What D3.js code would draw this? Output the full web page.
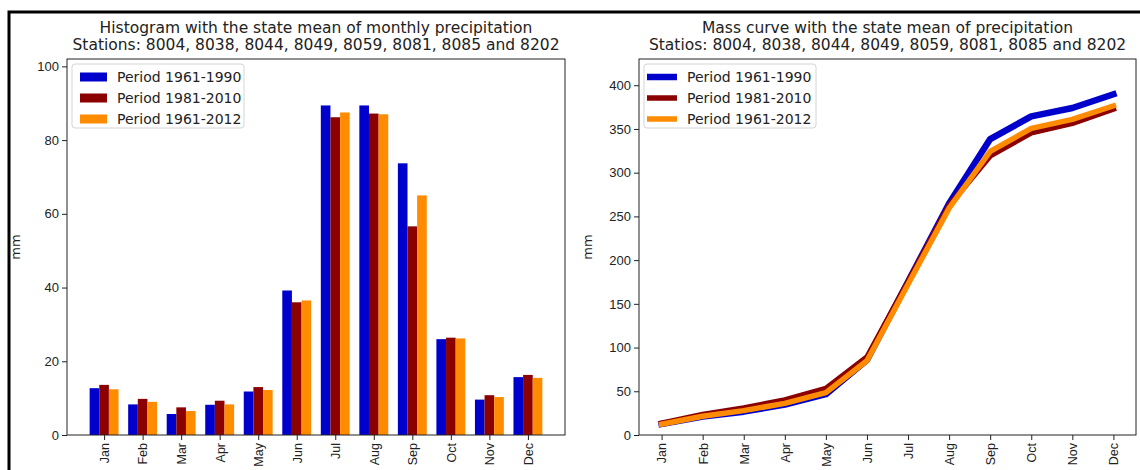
<!DOCTYPE html>
<html>
<head>
<meta charset="utf-8">
<script src="https://cdn.jsdelivr.net/npm/d3@7"></script>
<style>
  body { margin: 0; background: #fff; }
  svg { display: block; font-family: "DejaVu Sans", sans-serif; }
</style>
</head>
<body>
<div id="chart"></div>
<script>
// Data
const months = ['Jan', 'Feb', 'Mar', 'Apr', 'May', 'Jun', 'Jul', 'Aug', 'Sep', 'Oct', 'Nov', 'Dec'];
const periods = ['Period 1961-1990', 'Period 1981-2010', 'Period 1961-2012'];

// monthly means (mm)
const monthly1961_1990 = [12.7, 8.3, 5.7, 8.2, 11.8, 39.2, 89.4, 89.4, 73.7, 26.0, 9.6, 15.7];
const monthly1981_2010 = [13.6, 9.8, 7.5, 9.3, 13.0, 36.0, 86.2, 87.2, 56.6, 26.4, 10.8, 16.3];
const monthly1961_2012 = [12.4, 9.0, 6.5, 8.3, 12.2, 36.5, 87.5, 87.0, 65.0, 26.2, 10.3, 15.5];

// mass curve (accumulated mm)
const mass1961_1990 = [12.7, 21.0, 26.7, 34.9, 46.7, 85.9, 175.3, 264.7, 338.4, 364.4, 374.0, 389.7];
const mass1981_2010 = [13.6, 23.4, 30.9, 40.2, 53.2, 89.2, 175.4, 262.6, 319.2, 345.6, 356.4, 372.7];
const mass1961_2012 = [12.4, 21.4, 27.9, 36.2, 48.4, 84.9, 172.4, 259.4, 324.4, 350.6, 360.9, 376.4];

const barTicks = [0, 20, 40, 60, 80, 100];
const massTicks = [0, 50, 100, 150, 200, 250, 300, 350, 400];

const colors = ['#0000cd', '#8b0000', '#ff8c00'];
const lineWidths = [6.5, 5.5, 5.5];

const width = 1140, height = 470;
const plotTop = 59, plotBottom = 435;

const svg = d3.select('#chart').append('svg')
    .attr('width', width)
    .attr('height', height);

// outer black frame (cut off at right and bottom in the picture)
svg.append('path')
    .attr('d', `M9,${height}V12H${width}`)
    .attr('fill', 'none')
    .attr('stroke', '#000')
    .attr('stroke-width', 3);

function drawAxes(left, right, xScale, yScale, yTicks, titleLines) {
    const g = svg.append('g');

    // x axis with rotated month names
    const xAxis = g.append('g')
        .attr('transform', `translate(0,${plotBottom})`)
        .call(d3.axisBottom(xScale)
            .tickValues(d3.range(months.length))
            .tickFormat(i => months[i])
            .tickSize(5)
            .tickSizeOuter(0));
    xAxis.select('.domain').remove();
    xAxis.selectAll('text')
        .attr('font-size', 12.5)
        .attr('fill', '#222')
        .attr('transform', 'rotate(-90)')
        .attr('text-anchor', 'end')
        .attr('x', -8)
        .attr('y', 0)
        .attr('dy', '0.35em');

    const yAxis = g.append('g')
        .attr('transform', `translate(${left},0)`)
        .call(d3.axisLeft(yScale).tickValues(yTicks).tickSize(5).tickSizeOuter(0));
    yAxis.select('.domain').remove();
    yAxis.selectAll('text').attr('font-size', 13).attr('fill', '#222').attr('x', -8);
    g.selectAll('.tick line').attr('stroke', '#222');

    // frame of the axes
    g.append('rect')
        .attr('x', left)
        .attr('y', plotTop)
        .attr('width', right - left)
        .attr('height', plotBottom - plotTop)
        .attr('fill', 'none')
        .attr('stroke', '#222')
        .attr('stroke-width', 1);

    g.append('text')
        .attr('transform', `translate(${left - 47},${(plotTop + plotBottom) / 2}) rotate(-90)`)
        .attr('text-anchor', 'middle')
        .attr('font-size', 13)
        .attr('fill', '#222')
        .text('mm');

    titleLines.forEach((t, i) => {
        g.append('text')
            .attr('x', (left + right) / 2)
            .attr('y', 33 + i * 17)
            .attr('text-anchor', 'middle')
            .attr('font-size', 15.5)
            .attr('fill', '#222')
            .text(t);
    });
    return g;
}

function drawLegend(x, y, kind) {
    const lg = svg.append('g').attr('transform', `translate(${x},${y})`);
    lg.append('rect')
        .attr('width', 172)
        .attr('height', 64)
        .attr('rx', 3)
        .attr('fill', '#fff')
        .attr('fill-opacity', 0.8)
        .attr('stroke', '#d5d5d5');
    periods.forEach((p, i) => {
        const cy = 13 + i * 21;
        if (kind === 'bar') {
            lg.append('rect')
                .attr('x', 8).attr('y', cy - 4.5)
                .attr('width', 27).attr('height', 9)
                .attr('fill', colors[i]);
        } else {
            lg.append('line')
                .attr('x1', 3).attr('x2', 33)
                .attr('y1', cy).attr('y2', cy)
                .attr('stroke', colors[i])
                .attr('stroke-width', lineWidths[i]);
        }
        lg.append('text')
            .attr('x', kind === 'bar' ? 45 : 43)
            .attr('y', cy)
            .attr('dy', '0.35em')
            .attr('font-size', 14)
            .attr('fill', '#222')
            .text(p);
    });
}

// ---------- left: monthly histogram ----------
const xBar = d3.scaleLinear().domain([-0.9625, 11.9625]).range([67, 565]);
const yBar = d3.scaleLinear().domain([0, 102]).range([plotBottom, plotTop]);
const barSeries = [monthly1961_1990, monthly1981_2010, monthly1961_2012];
const barW = 0.25;

const barsG = svg.append('g');
barSeries.forEach((vals, s) => {
    barsG.selectAll(null)
        .data(vals)
        .enter()
        .append('rect')
        .attr('x', (d, i) => xBar(i + (s - 1) * barW - barW / 2))
        .attr('y', d => yBar(d))
        .attr('width', xBar(barW) - xBar(0))
        .attr('height', d => yBar(0) - yBar(d))
        .attr('fill', colors[s]);
});

drawAxes(67, 565, xBar, yBar, barTicks, [
    'Histogram with the state mean of monthly precipitation',
    'Stations: 8004, 8038, 8044, 8049, 8059, 8081, 8085 and 8202'
]);
drawLegend(72, 64, 'bar');

// ---------- right: mass curve ----------
const xMass = d3.scaleLinear().domain([-0.55, 11.55]).range([639, 1136]);
const yMass = d3.scaleLinear().domain([0, 430]).range([plotBottom, plotTop]);
const massSeries = [mass1961_1990, mass1981_2010, mass1961_2012];

const line = d3.line()
    .x((d, i) => xMass(i))
    .y(d => yMass(d));

const linesG = svg.append('g');
massSeries.forEach((vals, s) => {
    linesG.append('path')
        .datum(vals)
        .attr('d', line)
        .attr('fill', 'none')
        .attr('stroke', colors[s])
        .attr('stroke-width', lineWidths[s])
        .attr('stroke-linejoin', 'round')
        .attr('stroke-linecap', 'square');
});

drawAxes(639, 1136, xMass, yMass, massTicks, [
    'Mass curve with the state mean of precipitation',
    'Statios: 8004, 8038, 8044, 8049, 8059, 8081, 8085 and 8202'
]);
drawLegend(644, 64, 'line');
</script>
</body>
</html>
